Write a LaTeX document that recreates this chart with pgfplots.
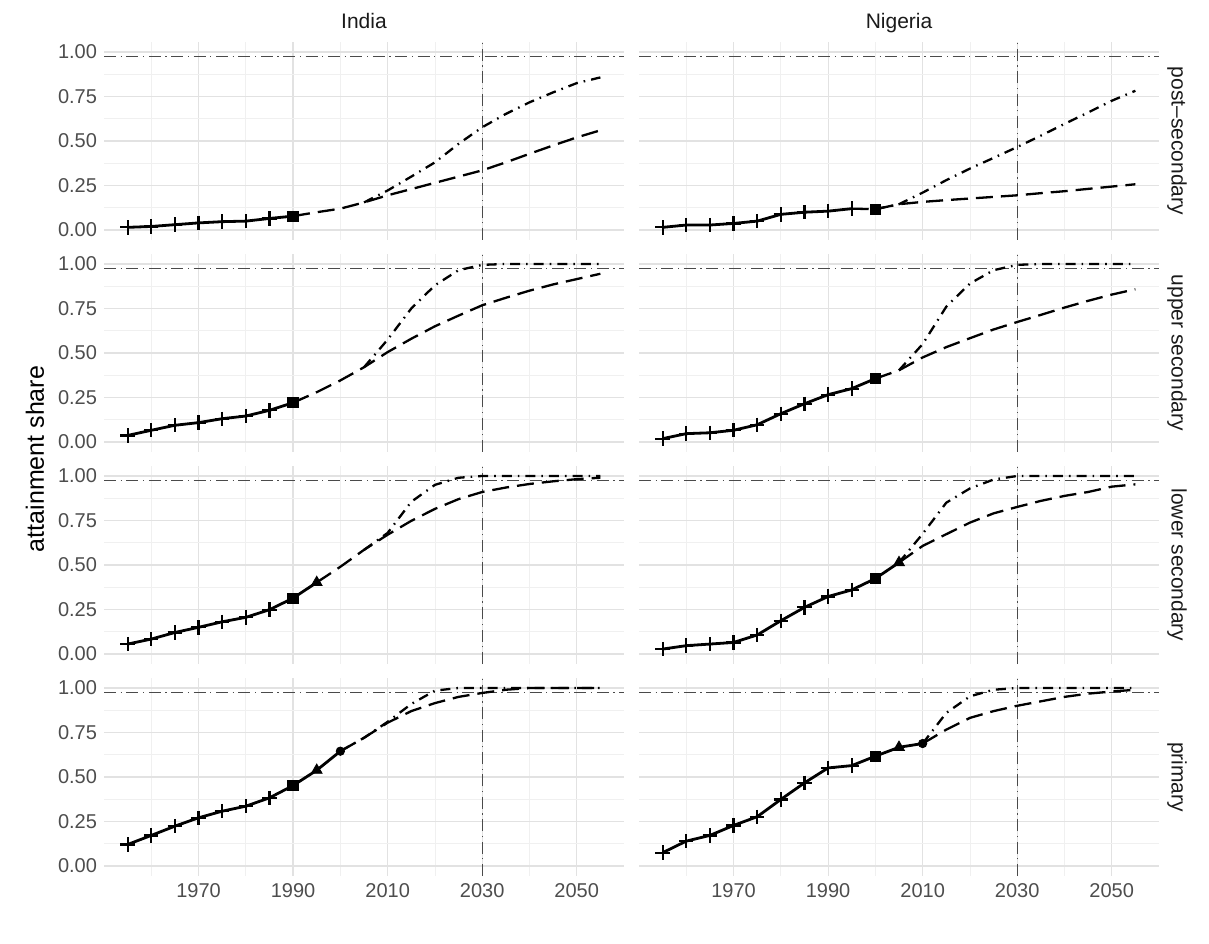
\documentclass[border=0pt]{standalone}
\usepackage{fontspec}
\setmainfont{Liberation Sans}
\usepackage{pgfplots}
\pgfplotsset{compat=1.18}
\definecolor{gmaj}{HTML}{E2E2E2}
\definecolor{gmin}{HTML}{F0F0F0}
\definecolor{axtxt}{HTML}{4D4D4D}
\definecolor{striptxt}{HTML}{1A1A1A}
\definecolor{reflc}{HTML}{4A4A4A}
\pgfplotsset{
 panel/.style={
  scale only axis, width=260pt, height=99pt,
  xmin=1950, xmax=2060, ymin=-0.056, ymax=1.056,
  xtick={1970,1990,2010,2030,2050},
  minor xtick={1960,1980,2000,2020,2040},
  ytick={0,0.25,0.5,0.75,1},
  minor ytick={0.125,0.375,0.625,0.875},
  grid=both,
  major grid style={line width=0.6pt, color=gmaj},
  minor grid style={line width=0.35pt, color=gmin},
  axis line style={draw=none},
  major tick length=0pt, minor tick length=0pt,
  xticklabels={}, yticklabels={},
  tick label style={font=\fontsize{10}{12}\selectfont, color=axtxt},
  anchor=south west,
 },
 leftcol/.style={yticklabels={0.00,0.25,0.50,0.75,1.00}},
 bottomrow/.style={xticklabels={1970,1990,2010,2030,2050}},
 refl/.style={reflc, line width=0.65pt, dash pattern=on 6pt off 2.3pt on 0.6pt off 2.3pt, no marks, forget plot},
 obsline/.style={black, line width=1.4pt, no marks, forget plot},
 plusm/.style={black, only marks, mark=+, mark size=3.6pt, mark options={line width=1.1pt}, forget plot},
 trend/.style={black, line width=1.15pt, dash pattern=on 8.5pt off 4pt, no marks, forget plot},
 accel/.style={black, line width=1.15pt, dash pattern=on 5pt off 3pt on 0.8pt off 3pt, no marks, forget plot},
 sq/.style={black, only marks, mark=square*, mark size=2.6pt, forget plot},
 tri/.style={black, only marks, mark=triangle*, mark size=3.1pt, forget plot},
 circ/.style={black, only marks, mark=*, mark size=2.1pt, forget plot},
}
\begin{document}
\begin{tikzpicture}
\path[use as bounding box] (0,0) rectangle (604.5pt,471.5pt);
% ---------- India post-secondary
\begin{axis}[panel, leftcol, at={(52pt,351.5pt)}]
\addplot[refl] coordinates {(1950,0.975) (2060,0.975)};
\addplot[refl] coordinates {(2030,-0.056) (2030,1.056)};
\addplot[trend] coordinates {(1990,0.078) (1995,0.10) (2000,0.12) (2005,0.155) (2010,0.195) (2015,0.23) (2020,0.265) (2025,0.30) (2030,0.335) (2035,0.38) (2040,0.428) (2045,0.475) (2050,0.52) (2055,0.56)};
\addplot[accel] coordinates {(2005,0.155) (2010,0.222) (2015,0.30) (2020,0.38) (2025,0.484) (2030,0.577) (2035,0.652) (2040,0.717) (2045,0.773) (2050,0.825) (2055,0.857)};
\addplot[obsline] coordinates {(1955,0.015) (1960,0.02) (1965,0.03) (1970,0.04) (1975,0.047) (1980,0.05) (1985,0.065) (1990,0.078)};
\addplot[plusm] coordinates {(1955,0.015) (1960,0.02) (1965,0.03) (1970,0.04) (1975,0.047) (1980,0.05) (1985,0.065)};
\addplot[sq] coordinates {(1990,0.078)};
\end{axis}
% ---------- Nigeria post-secondary
\begin{axis}[panel, at={(319.5pt,351.5pt)}]
\addplot[refl] coordinates {(1950,0.975) (2060,0.975)};
\addplot[refl] coordinates {(2030,-0.056) (2030,1.056)};
\addplot[trend] coordinates {(1995,0.12) (2000,0.117) (2005,0.145) (2010,0.158) (2015,0.168) (2020,0.177) (2025,0.186) (2030,0.195) (2035,0.207) (2040,0.218) (2045,0.231) (2050,0.244) (2055,0.257)};
\addplot[accel] coordinates {(2000,0.117) (2005,0.145) (2010,0.21) (2015,0.28) (2020,0.345) (2025,0.405) (2030,0.466) (2035,0.53) (2040,0.596) (2045,0.66) (2050,0.726) (2055,0.782)};
\addplot[obsline] coordinates {(1955,0.015) (1960,0.028) (1965,0.028) (1970,0.037) (1975,0.05) (1980,0.088) (1985,0.10) (1990,0.106) (1995,0.12)};
\addplot[plusm] coordinates {(1955,0.015) (1960,0.028) (1965,0.028) (1970,0.037) (1975,0.05) (1980,0.088) (1985,0.10) (1990,0.106) (1995,0.12)};
\addplot[sq] coordinates {(2000,0.117)};
\end{axis}
% ---------- India upper secondary
\begin{axis}[panel, leftcol, at={(52pt,245.5pt)}]
\addplot[refl] coordinates {(1950,0.975) (2060,0.975)};
\addplot[refl] coordinates {(2030,-0.056) (2030,1.056)};
\addplot[trend] coordinates {(1990,0.221) (1995,0.28) (2000,0.346) (2005,0.42) (2010,0.505) (2015,0.58) (2020,0.65) (2025,0.71) (2030,0.768) (2035,0.81) (2040,0.85) (2045,0.885) (2050,0.915) (2055,0.945)};
\addplot[accel] coordinates {(2005,0.42) (2010,0.575) (2015,0.75) (2020,0.88) (2025,0.965) (2030,0.995) (2035,1.0) (2040,1.0) (2045,1.0) (2050,1.0) (2055,1.0)};
\addplot[obsline] coordinates {(1955,0.037) (1960,0.066) (1965,0.094) (1970,0.109) (1975,0.131) (1980,0.146) (1985,0.178) (1990,0.221)};
\addplot[plusm] coordinates {(1955,0.037) (1960,0.066) (1965,0.094) (1970,0.109) (1975,0.131) (1980,0.146) (1985,0.178)};
\addplot[sq] coordinates {(1990,0.221)};
\end{axis}
% ---------- Nigeria upper secondary
\begin{axis}[panel, at={(319.5pt,245.5pt)}]
\addplot[refl] coordinates {(1950,0.975) (2060,0.975)};
\addplot[refl] coordinates {(2030,-0.056) (2030,1.056)};
\addplot[trend] coordinates {(2000,0.356) (2005,0.403) (2010,0.475) (2015,0.533) (2020,0.583) (2025,0.632) (2030,0.674) (2035,0.714) (2040,0.755) (2045,0.793) (2050,0.828) (2055,0.858)};
\addplot[accel] coordinates {(2005,0.403) (2010,0.55) (2015,0.76) (2020,0.89) (2025,0.965) (2030,0.995) (2035,1.0) (2040,1.0) (2045,1.0) (2050,1.0) (2055,1.0)};
\addplot[obsline] coordinates {(1955,0.019) (1960,0.047) (1965,0.052) (1970,0.066) (1975,0.097) (1980,0.159) (1985,0.215) (1990,0.266) (1995,0.30) (2000,0.356)};
\addplot[plusm] coordinates {(1955,0.019) (1960,0.047) (1965,0.052) (1970,0.066) (1975,0.097) (1980,0.159) (1985,0.215) (1990,0.266) (1995,0.30)};
\addplot[sq] coordinates {(2000,0.356)};
\end{axis}
% ---------- India lower secondary
\begin{axis}[panel, leftcol, at={(52pt,139.5pt)}]
\addplot[refl] coordinates {(1950,0.975) (2060,0.975)};
\addplot[refl] coordinates {(2030,-0.056) (2030,1.056)};
\addplot[trend] coordinates {(1995,0.402) (2000,0.49) (2005,0.585) (2010,0.67) (2015,0.748) (2020,0.815) (2025,0.87) (2030,0.91) (2035,0.935) (2040,0.955) (2045,0.97) (2050,0.982) (2055,0.99)};
\addplot[accel] coordinates {(2005,0.585) (2010,0.68) (2015,0.855) (2020,0.95) (2025,0.99) (2030,1.0) (2035,1.0) (2040,1.0) (2045,1.0) (2050,1.0) (2055,1.0)};
\addplot[obsline] coordinates {(1955,0.056) (1960,0.084) (1965,0.121) (1970,0.15) (1975,0.181) (1980,0.206) (1985,0.249) (1990,0.314) (1995,0.402)};
\addplot[plusm] coordinates {(1955,0.056) (1960,0.084) (1965,0.121) (1970,0.15) (1975,0.181) (1980,0.206) (1985,0.249)};
\addplot[sq] coordinates {(1990,0.314)};
\addplot[tri] coordinates {(1995,0.402)};
\end{axis}
% ---------- Nigeria lower secondary
\begin{axis}[panel, at={(319.5pt,139.5pt)}]
\addplot[refl] coordinates {(1950,0.975) (2060,0.975)};
\addplot[refl] coordinates {(2030,-0.056) (2030,1.056)};
\addplot[trend] coordinates {(2005,0.514) (2010,0.607) (2015,0.673) (2020,0.738) (2025,0.79) (2030,0.826) (2035,0.86) (2040,0.888) (2045,0.91) (2050,0.94) (2055,0.953)};
\addplot[accel] coordinates {(2005,0.514) (2010,0.675) (2015,0.85) (2020,0.93) (2025,0.98) (2030,1.0) (2035,1.0) (2040,1.0) (2045,1.0) (2050,1.0) (2055,1.0)};
\addplot[obsline] coordinates {(1955,0.028) (1960,0.047) (1965,0.056) (1970,0.065) (1975,0.107) (1980,0.187) (1985,0.262) (1990,0.323) (1995,0.36) (2000,0.424) (2005,0.514)};
\addplot[plusm] coordinates {(1955,0.028) (1960,0.047) (1965,0.056) (1970,0.065) (1975,0.107) (1980,0.187) (1985,0.262) (1990,0.323) (1995,0.36)};
\addplot[sq] coordinates {(2000,0.424)};
\addplot[tri] coordinates {(2005,0.514)};
\end{axis}
% ---------- India primary
\begin{axis}[panel, leftcol, bottomrow, at={(52pt,33.5pt)}]
\addplot[refl] coordinates {(1950,0.975) (2060,0.975)};
\addplot[refl] coordinates {(2030,-0.056) (2030,1.056)};
\addplot[trend] coordinates {(2000,0.645) (2005,0.72) (2010,0.805) (2015,0.87) (2020,0.915) (2025,0.95) (2030,0.972) (2035,0.99) (2040,1.0) (2045,1.0) (2050,1.0) (2055,1.0)};
\addplot[accel] coordinates {(2000,0.645) (2005,0.72) (2010,0.81) (2015,0.91) (2020,0.985) (2025,1.0) (2030,1.0) (2035,1.0) (2040,1.0) (2045,1.0) (2050,1.0) (2055,1.0)};
\addplot[obsline] coordinates {(1955,0.121) (1960,0.172) (1965,0.224) (1970,0.271) (1975,0.308) (1980,0.336) (1985,0.383) (1990,0.452) (1995,0.538) (2000,0.645)};
\addplot[plusm] coordinates {(1955,0.121) (1960,0.172) (1965,0.224) (1970,0.271) (1975,0.308) (1980,0.336) (1985,0.383)};
\addplot[sq] coordinates {(1990,0.452)};
\addplot[tri] coordinates {(1995,0.538)};
\addplot[circ] coordinates {(2000,0.645)};
\end{axis}
% ---------- Nigeria primary
\begin{axis}[panel, bottomrow, at={(319.5pt,33.5pt)}]
\addplot[refl] coordinates {(1950,0.975) (2060,0.975)};
\addplot[refl] coordinates {(2030,-0.056) (2030,1.056)};
\addplot[trend] coordinates {(2010,0.688) (2015,0.766) (2020,0.832) (2025,0.87) (2030,0.9) (2035,0.925) (2040,0.95) (2045,0.968) (2050,0.98) (2055,0.99)};
\addplot[accel] coordinates {(2010,0.688) (2015,0.86) (2020,0.953) (2025,0.99) (2030,1.0) (2035,1.0) (2040,1.0) (2045,1.0) (2050,1.0) (2055,1.0)};
\addplot[obsline] coordinates {(1955,0.075) (1960,0.14) (1965,0.172) (1970,0.228) (1975,0.277) (1980,0.374) (1985,0.467) (1990,0.551) (1995,0.564) (2000,0.617) (2005,0.667) (2010,0.688)};
\addplot[plusm] coordinates {(1955,0.075) (1960,0.14) (1965,0.172) (1970,0.228) (1975,0.277) (1980,0.374) (1985,0.467) (1990,0.551) (1995,0.564)};
\addplot[sq] coordinates {(2000,0.617)};
\addplot[tri] coordinates {(2005,0.667)};
\addplot[circ] coordinates {(2010,0.688)};
\end{axis}
% ---------- strips and title
\node[font=\fontsize{10.5}{12}\selectfont, text=striptxt, anchor=base] at (182pt,457pt) {India};
\node[font=\fontsize{10.5}{12}\selectfont, text=striptxt, anchor=base] at (449.5pt,457pt) {Nigeria};
\node[font=\fontsize{10.5}{12}\selectfont, text=striptxt, rotate=-90] at (588.5pt,401pt) {post–secondary};
\node[font=\fontsize{10.5}{12}\selectfont, text=striptxt, rotate=-90] at (588.5pt,295pt) {upper secondary};
\node[font=\fontsize{10.5}{12}\selectfont, text=striptxt, rotate=-90] at (588.5pt,189pt) {lower secondary};
\node[font=\fontsize{10.5}{12}\selectfont, text=striptxt, rotate=-90] at (588.5pt,83pt) {primary};
\node[font=\fontsize{12.5}{14}\selectfont, rotate=90] at (17.5pt,242pt) {attainment share};
\end{tikzpicture}
\end{document}
